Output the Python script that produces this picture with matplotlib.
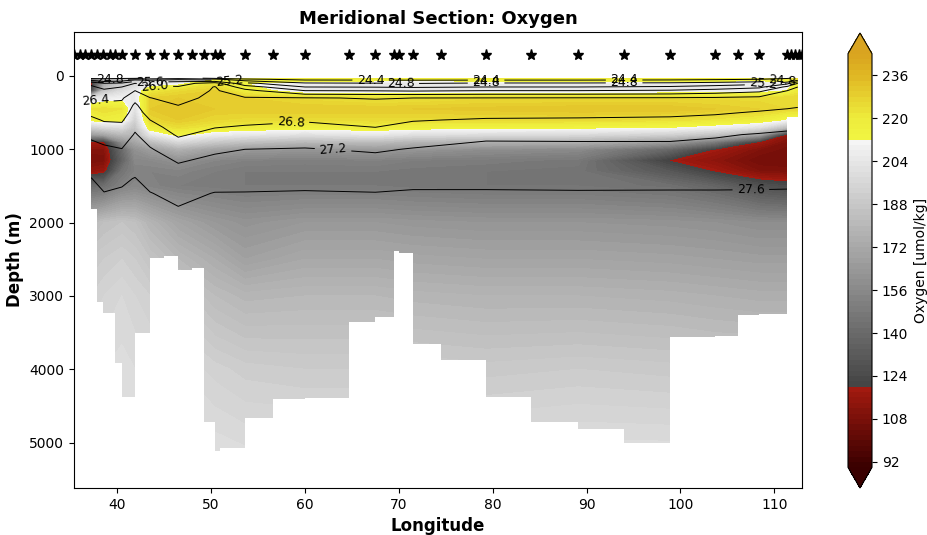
import numpy as np
import matplotlib
matplotlib.use("Agg")
import matplotlib.pyplot as plt
from matplotlib.colors import LinearSegmentedColormap

# stations (stars along the top) and bottom depth to the next station
station_lon = [35.4, 36.0, 36.6, 37.2, 37.8, 38.5, 39.2, 39.8, 40.5,
               41.9, 43.5, 45.0, 46.5, 48.0, 49.3, 50.4, 50.9,
               53.6, 56.6, 60.0, 64.7, 67.5, 69.5, 70.0, 71.5,
               74.5, 79.3, 84.1, 89.1, 94.0, 98.9, 103.7, 106.1, 108.4,
               111.4, 111.8, 112.2, 112.6, 112.95]
station_bottom = [0, 0, 0, 1820, 3080, 3230, 3230, 3920, 4380,
                  3510, 2480, 2450, 2640, 2620, 4720, 5110, 5080,
                  4660, 4400, 4390, 3360, 3290, 2390, 2420, 3650,
                  3870, 4380, 4720, 4820, 5010, 3560, 3540, 3260, 3250,
                  560, 560, 560, 0, 0]

# profiles used for the section
profile_lon = [37.2, 38.6, 40.5, 41.9, 43.5, 46.5, 50.4, 53.6, 60.0,
               67.5, 71.5, 79.3, 89.1, 98.9, 103.7, 108.4, 111.4, 112.5]

oxy_depth = [30, 50, 100, 200, 300, 450, 600, 700, 800, 900, 1000, 1150,
             1300, 1500, 2000, 2500, 3000, 4000, 5200]
oxygen = [
    [160, 180, 185, 190, 195, 198, 205, 218, 222, 222, 220, 222, 222, 222, 220, 220, 222, 225],
    [125, 175, 185, 192, 198, 200, 212, 215, 218, 216, 214, 218, 218, 218, 216, 215, 216, 222],
    [112, 170, 188, 195, 205, 208, 222, 212, 207, 205, 204, 206, 206, 206, 206, 206, 208, 215],
    [118, 185, 198, 205, 220, 225, 228, 218, 205, 204, 205, 205, 205, 206, 206, 207, 212, 220],
    [200, 205, 208, 205, 228, 230, 230, 228, 225, 222, 223, 225, 225, 225, 225, 225, 226, 226],
    [222, 224, 222, 200, 230, 232, 230, 230, 230, 230, 230, 231, 232, 232, 230, 228, 226, 226],
    [214, 218, 216, 192, 226, 230, 226, 225, 225, 225, 225, 225, 225, 223, 221, 218, 210, 210],
    [192, 196, 198, 186, 218, 224, 220, 218, 216, 218, 216, 215, 214, 212, 208, 200, 182, 182],
    [165, 170, 180, 180, 202, 215, 206, 204, 200, 204, 200, 198, 197, 192, 185, 168, 114, 114],
    [119, 118, 158, 170, 182, 196, 188, 184, 180, 182, 178, 176, 175, 165, 148, 118, 109, 109],
    [111, 111, 140, 160, 166, 176, 168, 164, 162, 164, 162, 158, 156, 138, 119, 110, 107, 107],
    [108, 109, 136, 155, 156, 160, 154, 152, 151, 152, 150, 149, 147, 119, 113, 106, 106, 106],
    [114, 116, 145, 152, 152, 153, 150, 148, 148, 148, 147, 146, 145, 130, 119, 110, 109, 109],
    [140, 142, 152, 155, 153, 150, 149, 148, 148, 148, 147, 146, 146, 143, 137, 127, 124, 124],
    [180, 184, 186, 184, 178, 170, 164, 161, 164, 164, 163, 162, 162, 161, 160, 158, 158, 158],
    [188, 190, 192, 190, 186, 180, 174, 168, 172, 172, 171, 170, 170, 169, 168, 167, 167, 167],
    [192, 194, 196, 194, 192, 188, 182, 179, 180, 180, 179, 178, 178, 177, 176, 175, 175, 175],
    [197, 198, 199, 198, 197, 196, 193, 191, 190, 190, 190, 189, 190, 189, 188, 188, 188, 188],
    [200, 200, 200, 200, 200, 200, 200, 199, 199, 199, 199, 199, 200, 200, 199, 199, 199, 199],
]

sig_depth = [30, 45, 65, 100, 150, 200, 300, 400, 500, 600, 700, 800, 1000,
             1200, 1400, 1600, 2000, 5200]
sigma = [
    [24.20, 24.20, 24.30, 24.30, 24.50, 24.60, 24.30, 24.20, 24.15, 24.15, 24.20, 24.15, 24.15, 24.18, 24.20, 24.25, 24.35, 24.50],
    [24.80, 24.60, 24.70, 25.00, 24.96, 25.10, 24.90, 24.47, 24.30, 24.30, 24.32, 24.30, 24.30, 24.32, 24.35, 24.40, 24.55, 24.85],
    [25.28, 25.04, 25.12, 25.44, 25.33, 25.47, 25.40, 24.80, 24.50, 24.48, 24.45, 24.48, 24.48, 24.50, 24.55, 24.62, 24.85, 25.30],
    [25.90, 25.60, 25.67, 26.00, 25.84, 25.83, 26.20, 25.30, 24.85, 24.82, 24.78, 24.85, 24.85, 24.88, 24.95, 25.05, 25.50, 26.00],
    [26.07, 25.89, 26.00, 26.20, 26.07, 26.03, 26.42, 25.80, 25.20, 25.18, 25.15, 25.20, 25.20, 25.25, 25.35, 25.50, 26.10, 26.40],
    [26.16, 26.07, 26.12, 26.40, 26.19, 26.10, 26.45, 26.12, 25.60, 25.58, 25.55, 25.60, 25.60, 25.65, 25.75, 25.90, 26.40, 26.48],
    [26.35, 26.31, 26.35, 26.69, 26.41, 26.25, 26.52, 26.43, 26.42, 26.38, 26.40, 26.41, 26.42, 26.43, 26.45, 26.50, 26.58, 26.62],
    [26.53, 26.49, 26.50, 26.86, 26.54, 26.40, 26.61, 26.53, 26.56, 26.50, 26.55, 26.55, 26.56, 26.58, 26.61, 26.68, 26.73, 26.76],
    [26.72, 26.63, 26.63, 26.95, 26.67, 26.49, 26.65, 26.62, 26.67, 26.60, 26.66, 26.69, 26.70, 26.72, 26.76, 26.83, 26.88, 26.90],
    [26.88, 26.77, 26.76, 27.05, 26.80, 26.58, 26.72, 26.72, 26.77, 26.70, 26.78, 26.83, 26.84, 26.86, 26.90, 26.97, 27.02, 27.02],
    [27.01, 26.91, 26.88, 27.14, 26.91, 26.67, 26.79, 26.83, 26.88, 26.80, 26.89, 26.98, 26.98, 26.99, 27.03, 27.10, 27.15, 27.15],
    [27.14, 27.06, 26.99, 27.23, 27.03, 26.76, 26.90, 26.95, 27.00, 26.92, 27.00, 27.13, 27.13, 27.13, 27.17, 27.22, 27.25, 27.25],
    [27.31, 27.26, 27.21, 27.36, 27.23, 26.99, 27.14, 27.20, 27.22, 27.16, 27.22, 27.29, 27.28, 27.28, 27.30, 27.33, 27.36, 27.36],
    [27.46, 27.38, 27.38, 27.49, 27.37, 27.21, 27.32, 27.35, 27.37, 27.33, 27.38, 27.42, 27.41, 27.41, 27.42, 27.44, 27.46, 27.46],
    [27.61, 27.50, 27.56, 27.61, 27.50, 27.35, 27.47, 27.50, 27.51, 27.47, 27.54, 27.54, 27.52, 27.53, 27.53, 27.54, 27.55, 27.55],
    [27.64, 27.61, 27.63, 27.64, 27.61, 27.52, 27.61, 27.61, 27.62, 27.61, 27.62, 27.62, 27.62, 27.62, 27.62, 27.62, 27.62, 27.62],
    [27.72, 27.70, 27.70, 27.70, 27.70, 27.70, 27.70, 27.70, 27.70, 27.70, 27.70, 27.70, 27.70, 27.70, 27.70, 27.70, 27.70, 27.70],
    [27.85, 27.85, 27.85, 27.85, 27.85, 27.85, 27.85, 27.85, 27.85, 27.85, 27.85, 27.85, 27.85, 27.85, 27.85, 27.85, 27.85, 27.85],
]

sig_levels = [24.4, 24.8, 25.2, 25.6, 26.0, 26.4, 26.8, 27.2, 27.6]
label_spots = [(79.3, 55), (79.3, 95), (94.0, 55), (94.0, 95), (67.0, 55),
               (70.2, 110), (108.8, 110), (110.8, 60), (39.2, 60), (52.0, 70),
               (43.5, 85), (44.0, 160), (37.7, 330), (58.5, 630),
               (63.0, 1000), (107.5, 1530)]
cbar_ticks = [92, 108, 124, 140, 156, 172, 188, 204, 220, 236]
star_depth = -280

# colormap: red for low oxygen, grey in the middle, yellow for high
vmin, vmax = 90, 244
def pos(v):
    return (v - vmin) / (vmax - vmin)

cmap = LinearSegmentedColormap.from_list("oxy", [
    (0.0, "#3a0000"),
    (pos(119.9), "#a51b10"),
    (pos(120), "#434343"),
    (pos(211.9), "#f6f6f6"),
    (pos(212), "#f2f542"),
    (pos(220), "#eeec3c"),
    (pos(236), "#e0b824"),
    (1.0, "#d9a420"),
])
levels = np.arange(vmin, vmax + 1, 2)

fig = plt.figure(figsize=(9.28, 5.35), dpi=100)
ax = fig.add_axes([74 / 928, 1 - 488 / 535, 728 / 928, 456 / 535])
cax = fig.add_axes([848 / 928, 1 - 488 / 535, 24 / 928, 455 / 535])

X, Y = np.meshgrid(profile_lon, oxy_depth)
cf = ax.contourf(X, Y, np.array(oxygen), levels=levels, cmap=cmap,
                 extend="both", zorder=1)

Xs, Ys = np.meshgrid(profile_lon, sig_depth)
cs = ax.contour(Xs, Ys, np.array(sigma), levels=sig_levels, colors="k",
                linewidths=0.7, zorder=2)
ax.clabel(cs, fmt="%.1f", fontsize=9, inline=True, manual=label_spots)

# bathymetry mask
ax.fill_between(station_lon, station_bottom, 6000, step="post",
                color="white", zorder=2.2, linewidth=0)

ax.plot(station_lon, [star_depth] * len(station_lon), "*", color="k",
        markersize=8, zorder=3)

ax.set_xlim(35.4, 112.95)
ax.set_ylim(5620, -600)
ax.set_xticks([40, 50, 60, 70, 80, 90, 100, 110])
ax.set_yticks([0, 1000, 2000, 3000, 4000, 5000])
ax.tick_params(labelsize=10)
ax.set_xlabel("Longitude", fontsize=12, fontweight="bold")
ax.set_ylabel("Depth (m)", fontsize=12, fontweight="bold")
ax.set_title("Meridional Section: Oxygen", fontsize=13, fontweight="bold")

cb = fig.colorbar(cf, cax=cax, ticks=cbar_ticks)
cb.set_label("Oxygen [umol/kg]", fontsize=10)
cb.ax.tick_params(labelsize=10)

fig.savefig("out.png", dpi=100)
